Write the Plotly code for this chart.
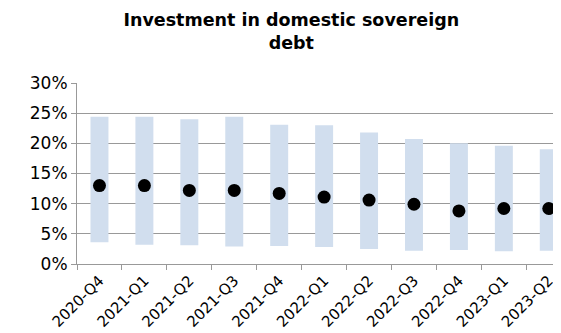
import plotly.graph_objects as go

quarters = ["2020-Q4", "2021-Q1", "2021-Q2", "2021-Q3", "2021-Q4", "2022-Q1",
            "2022-Q2", "2022-Q3", "2022-Q4", "2023-Q1", "2023-Q2"]
range_low = [3.6, 3.2, 3.1, 2.9, 3.0, 2.8, 2.5, 2.2, 2.3, 2.1, 2.2]
range_high = [24.4, 24.4, 24.0, 24.4, 23.1, 23.0, 21.8, 20.7, 20.0, 19.6, 19.0]
median = [13.0, 13.0, 12.2, 12.2, 11.7, 11.1, 10.6, 9.9, 8.8, 9.2, 9.2]

font = "Verdana, DejaVu Sans, sans-serif"

fig = go.Figure()
fig.add_trace(go.Bar(
    x=quarters,
    y=[h - l for h, l in zip(range_high, range_low)],
    base=range_low,
    marker=dict(color="#D1DEEE", line=dict(width=0)),
    width=0.4,
    showlegend=False,
))
fig.add_trace(go.Scatter(
    x=quarters, y=median, mode="markers",
    marker=dict(color="black", size=13),
    showlegend=False,
))

fig.update_layout(
    width=561, height=333,
    margin=dict(l=69, r=0, t=75, b=77, autoexpand=False),
    paper_bgcolor="white", plot_bgcolor="white",
    font=dict(family=font, color="black", size=17),
    title=dict(text="<b>Investment in domestic sovereign<br>debt</b>",
               x=0.505, xanchor="center", xref="container",
               y=0.945, yanchor="top", yref="container",
               font=dict(size=17.5, family=font)),
    bargap=0.6,
)
fig.update_xaxes(
    type="category", range=[-0.5, 10.45], automargin=False,
    tickangle=-45, tickfont=dict(size=15), ticklabelstandoff=1,
    showgrid=False, showline=True, linecolor="#999", linewidth=1,
    ticks="outside", tickson="boundaries", ticklen=5, tickcolor="#999",
)
fig.update_yaxes(
    range=[0, 30], dtick=5, ticksuffix="%", automargin=False,
    tickfont=dict(size=17),
    showgrid=True, gridcolor="#999", gridwidth=1,
    showline=True, linecolor="#999", linewidth=1,
    ticks="outside", ticklen=5, tickcolor="#999",
    zeroline=False,
)

fig.write_html("out.html")
